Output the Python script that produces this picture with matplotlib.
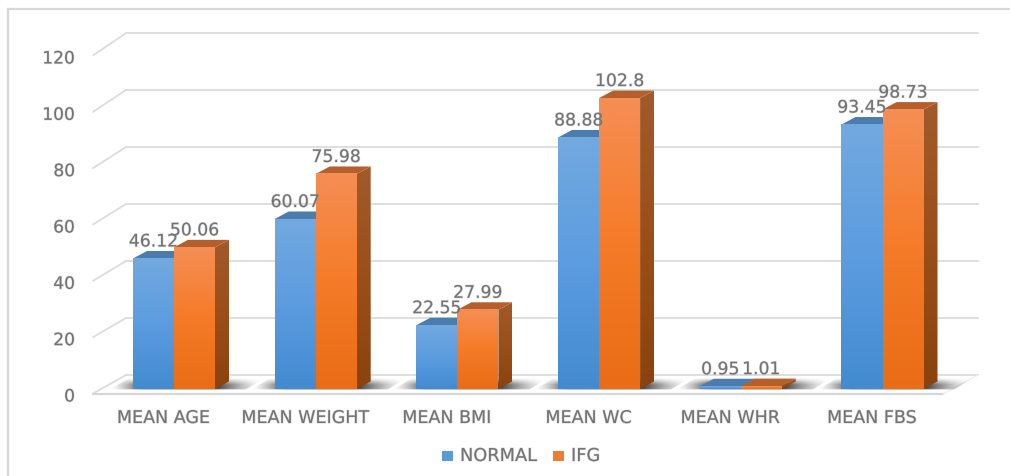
import numpy as np
import matplotlib
matplotlib.use("Agg")
import matplotlib.pyplot as plt
import matplotlib.patheffects as pe
from matplotlib.colors import to_rgb
from matplotlib.patches import Polygon, Rectangle

categories = ["MEAN AGE", "MEAN WEIGHT", "MEAN BMI", "MEAN WC", "MEAN WHR", "MEAN FBS"]
normal = [46.12, 60.07, 22.55, 88.88, 0.95, 93.45]
ifg = [50.06, 75.98, 27.99, 102.8, 1.01, 98.73]
normal_labels = ["46.12", "60.07", "22.55", "88.88", "0.95", "93.45"]
ifg_labels = ["50.06", "75.98", "27.99", "102.8", "1.01", "98.73"]
y_ticks = [0, 20, 40, 60, 80, 100, 120]

W, H = 1010, 477
PX_X = 141.7      # pixels per category
PX_Y = 2.83       # pixels per value unit
X0 = 174.0        # pixel of first category centre
Y0 = 390.0        # pixel (from top) of value zero

plt.rcParams["font.family"] = ["DejaVu Sans"]
fig = plt.figure(figsize=(W / 100, H / 100), dpi=100)
ax = fig.add_axes([0, 0, 1, 1])
ax.axis("off")


def dx(p):
    return p / PX_X


def dy(p):
    return p / PX_Y


TXT = "#737373"
GRID = "#dcdcdc"
BAR_W = dx(41)
DX, DY = dx(14), dy(7.5)
BLUR = [pe.withStroke(linewidth=1.0, foreground="#a8a8a8", alpha=0.35)]


def txt(x, y, s, **kw):
    return ax.text(x, y, s, color=TXT, path_effects=BLUR, **kw)


def vgrad(x0, x1, y0, y1, ctop, cmid, cbot, clip=None, z=3):
    g = np.linspace(0, 1, 64)
    stops = np.array([to_rgb(ctop), to_rgb(cmid), to_rgb(cbot)])
    img = np.stack([np.interp(g, [0, 0.5, 1], stops[:, k]) for k in range(3)], axis=-1)[:, None, :]
    im = ax.imshow(img, extent=(x0, x1, y0, y1), origin="upper", aspect="auto",
                   zorder=z, interpolation="bilinear")
    if clip is not None:
        p = Polygon(clip, closed=True, transform=ax.transData, fc="none", ec="none")
        ax.add_patch(p)
        im.set_clip_path(p)


def shadow(x0, x1):
    # soft floor shadow underneath a bar pair
    w, h = 160, 40
    xs = np.linspace(0, 1, w)
    ys = np.linspace(0, 1, h)
    a = np.minimum(xs / 0.22, (1 - xs) / 0.30).clip(0, 1) ** 1.4
    b = np.minimum(ys / 0.55, (1 - ys) / 0.10).clip(0, 1)
    al = (a[None, :] * b[:, None]) * 0.9
    img = np.zeros((h, w, 4))
    img[..., :3] = 0.2
    img[..., 3] = al
    lo, hi = x0 - dx(24), x1 + dx(50)
    y0, y1 = dy(-1), dy(11)
    im = ax.imshow(img, extent=(lo, hi, y0, y1), origin="upper", aspect="auto",
                   zorder=2, interpolation="bilinear")
    p = Polygon([(lo, y0), (hi - dx(20), y0), (hi, y1), (lo + dx(20), y1)], closed=True,
                transform=ax.transData, fc="none", ec="none")
    ax.add_patch(p)
    im.set_clip_path(p)


def bar(x, v, fcols, top, scols):
    x1 = x + BAR_W
    vgrad(x, x1, 0, max(v, 0.01), *fcols, z=4)
    ax.add_patch(Polygon([(x, v), (x1, v), (x1 + DX, v + DY), (x + DX, v + DY)],
                         closed=True, fc=top, ec="none", zorder=3.5))
    clip = [(x1, 0), (x1 + DX, DY), (x1 + DX, v + DY), (x1, v)]
    vgrad(x1, x1 + DX, 0, v + DY, *scols, clip=clip, z=3.4)


LEFT = -X0 / PX_X
# outer frame (left and top only are visible in the image)
ax.plot([LEFT + dx(8)] * 2, [dy(Y0 - 477), dy(Y0 - 10)], color="#d8d8d8", lw=1.6, zorder=1)
ax.plot([LEFT + dx(8), LEFT + dx(1010)], [dy(Y0 - 10)] * 2, color="#d8d8d8", lw=1.6, zorder=1)

# walls: gridlines
FL, BL, BR, FR = LEFT + dx(93), LEFT + dx(126), LEFT + dx(978), LEFT + dx(943)
for t in y_ticks:
    front = t * 338.0 / 120 / PX_Y + dy(Y0 - 394.5)
    back = t * 342.0 / 120 / PX_Y + dy(Y0 - 376)
    ax.plot([FL, BL], [front, back], color=GRID, lw=1.3, zorder=1, solid_capstyle="round")
    ax.plot([BL, BR], [back, back], color=GRID, lw=1.3, zorder=1)
    txt(LEFT + dx(75), front - dy(3), str(t), ha="right", va="center", fontsize=12.3)
# floor
ax.plot([FL, FR], [dy(Y0 - 395)] * 2, color="#d6d6d6", lw=1.6, zorder=1)
ax.plot([FR, BR], [dy(Y0 - 395), dy(Y0 - 376)], color="#eeeeee", lw=1.0, zorder=1)

for i, (n, g) in enumerate(zip(normal, ifg)):
    shadow(i - BAR_W, i + BAR_W)
    bar(i - BAR_W, n, ("#72a9df", "#5c9ce0", "#438bd0"), "#4a7dae", ("#4a7dae", "#4a7dae", "#4a7dae"))
    bar(i, g, ("#f58e54", "#f57b28", "#ea6c16"), "#b5602c", ("#a25a2b", "#9a4f1a", "#8a430e"))
    txt(i - BAR_W / 2, n + dy(17), normal_labels[i], ha="center", va="center", fontsize=12.4, zorder=6)
    txt(i + BAR_W / 2, g + dy(17), ifg_labels[i], ha="center", va="center", fontsize=12.4, zorder=6)
    txt(i - dx(10.5), dy(Y0 - 419), categories[i], ha="center", va="center", fontsize=12.6)

# legend
for px, col, name, tx in [(442, "#5b9bd5", "NORMAL", 460), (553, "#ed7d31", "IFG", 571)]:
    ax.add_patch(Rectangle((LEFT + dx(px), dy(Y0 - 462)), dx(11), dy(10.5), fc=col, ec="none"))
    txt(LEFT + dx(tx), dy(Y0 - 457), name, ha="left", va="center", fontsize=12.8)

ax.set_xlim(LEFT, (W - X0) / PX_X)
ax.set_ylim(-(H - Y0) / PX_Y, Y0 / PX_Y)
fig.savefig("out.png", dpi=100, facecolor="white")
